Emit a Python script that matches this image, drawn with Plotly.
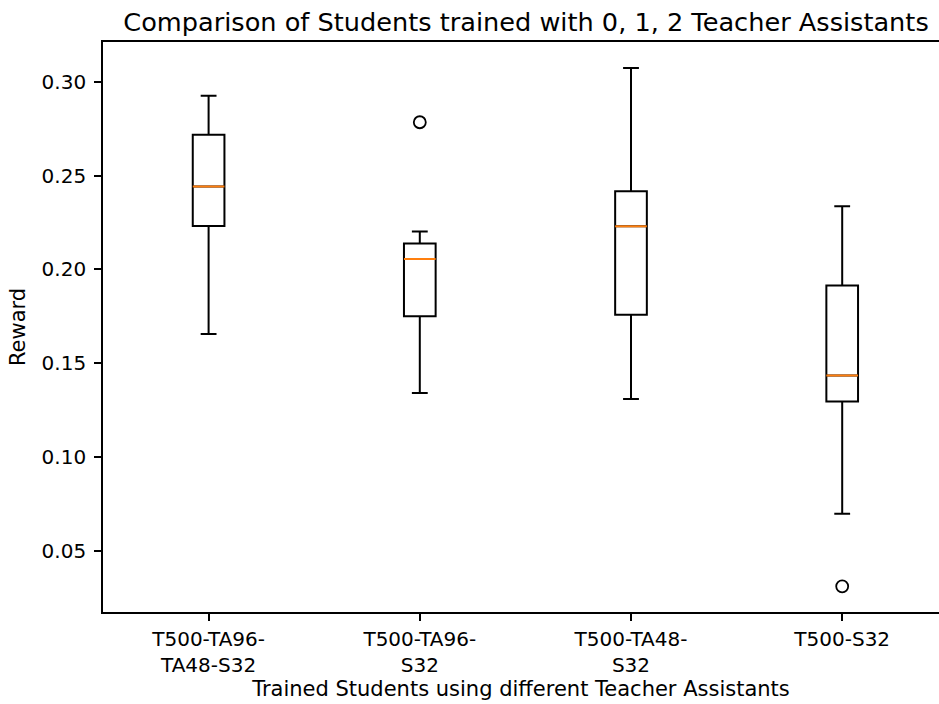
import plotly.graph_objects as go

categories = ["T500-TA96-<br>TA48-S32", "T500-TA96-<br>S32", "T500-TA48-<br>S32", "T500-S32"]
positions = [1, 2, 3, 4]
lower_whisker = [0.1656, 0.1341, 0.1309, 0.0697]
q1 = [0.2232, 0.1750, 0.1759, 0.1296]
median = [0.2443, 0.2056, 0.2230, 0.1435]
q3 = [0.2719, 0.2138, 0.2417, 0.1915]
upper_whisker = [0.2927, 0.2203, 0.3075, 0.2337]
outlier_pos = [2, 4]
outlier_val = [0.2785, 0.0310]
y_ticks = [0.05, 0.10, 0.15, 0.20, 0.25, 0.30]

box_w = 0.15
FONT = "DejaVu Sans"

fig = go.Figure()
fig.add_trace(go.Box(
    x=positions, q1=q1, median=median, q3=q3,
    lowerfence=lower_whisker, upperfence=upper_whisker,
    width=box_w, whiskerwidth=0.5, boxpoints=False,
    fillcolor="rgba(255,255,255,0)", line=dict(color="black", width=2),
    showlegend=False, hoverinfo="skip",
))

mx, my = [], []
for p, m in zip(positions, median):
    mx += [p - box_w / 2, p + box_w / 2, None]
    my += [m, m, None]
fig.add_trace(go.Scatter(x=mx, y=my, mode="lines",
                         line=dict(color="#ff7f0e", width=2),
                         showlegend=False, hoverinfo="skip"))

fig.add_trace(go.Scatter(x=outlier_pos, y=outlier_val, mode="markers",
                         marker=dict(symbol="circle-open", size=12, color="black",
                                     line=dict(width=1.8, color="black")),
                         showlegend=False, hoverinfo="skip"))

fig.update_layout(
    width=939, height=704,
    margin=dict(l=103, r=0, t=42, b=92),
    plot_bgcolor="white", paper_bgcolor="white",
    font=dict(family=FONT, color="black", size=20),
    title=dict(text="Comparison of Students trained with 0, 1, 2 Teacher Assistants",
               font=dict(size=25.6, family=FONT, color="black"),
               x=0.506, xref="paper", xanchor="center",
               y=1, yref="paper", yanchor="bottom", pad=dict(b=11)),
    xaxis=dict(range=[0.5, 0.5 + 836 / 211.2], tickvals=positions, ticktext=categories,
               showgrid=False, zeroline=False, showline=True, linecolor="black",
               linewidth=1.7, mirror=True, ticks="outside", ticklen=7, tickwidth=1.7,
               tickcolor="black", tickfont=dict(size=20, family=FONT),
               ticklabelstandoff=1,
               title=dict(text="Trained Students using different Teacher Assistants",
                          font=dict(size=21, family=FONT), standoff=5)),
    yaxis=dict(range=[0.0173, 0.3213], tickvals=y_ticks,
               ticktext=[f"{v:.2f}" for v in y_ticks],
               showgrid=False, zeroline=False, showline=True, linecolor="black",
               linewidth=1.7, mirror=False, ticks="outside", ticklen=7, tickwidth=1.7,
               tickcolor="black", tickfont=dict(size=20, family=FONT),
               ticklabelstandoff=4,
               title=dict(text="Reward", font=dict(size=21, family=FONT), standoff=10)),
)

fig.write_html("out.html")
